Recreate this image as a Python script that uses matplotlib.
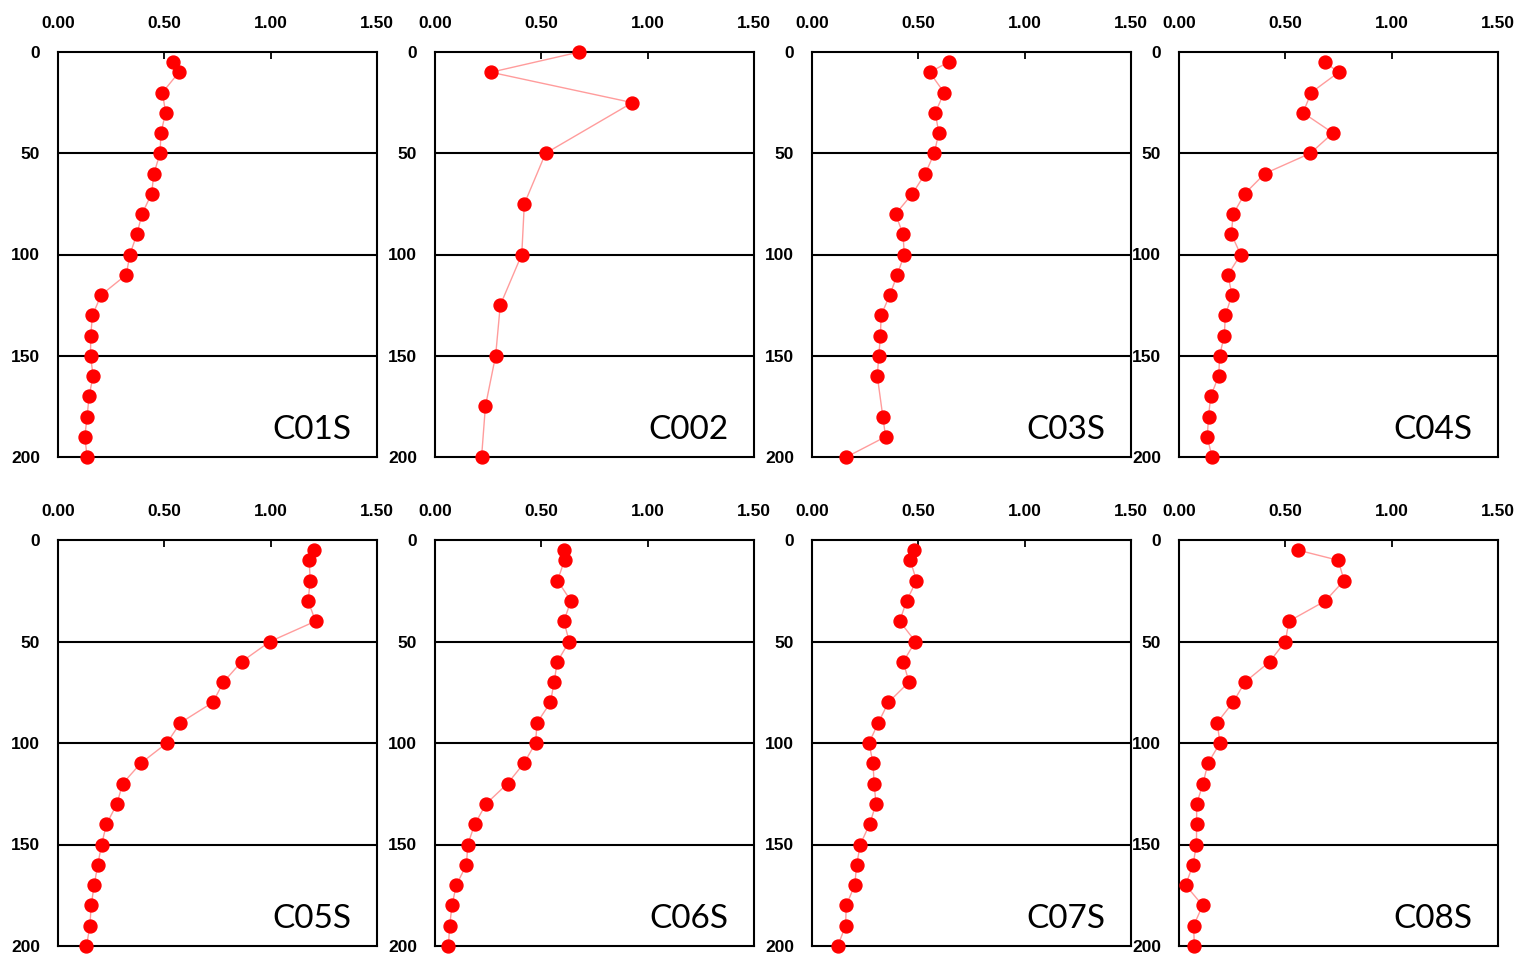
import numpy as np
import matplotlib.pyplot as plt

# depth (m) of each sample
depth_std = [5, 10, 20, 30, 40, 50, 60, 70, 80, 90, 100, 110, 120, 130, 140, 150, 160, 170, 180, 190, 200]
depth_c002 = [0, 10, 25, 50, 75, 100, 125, 150, 175, 200]
depth_c03s = [5, 10, 20, 30, 40, 50, 60, 70, 80, 90, 100, 110, 120, 130, 140, 150, 160, 180, 190, 200]

c01s = [0.542, 0.569, 0.491, 0.506, 0.484, 0.480, 0.451, 0.440, 0.395, 0.371, 0.338,
        0.321, 0.203, 0.162, 0.154, 0.153, 0.165, 0.146, 0.137, 0.126, 0.137]
c002 = [0.679, 0.263, 0.928, 0.520, 0.420, 0.408, 0.307, 0.285, 0.237, 0.219]
c03s = [0.642, 0.553, 0.621, 0.580, 0.596, 0.575, 0.533, 0.472, 0.393, 0.428,
        0.434, 0.401, 0.366, 0.325, 0.322, 0.314, 0.307, 0.333, 0.346, 0.162]
c04s = [0.685, 0.751, 0.622, 0.583, 0.724, 0.618, 0.404, 0.309, 0.255, 0.246, 0.290,
        0.230, 0.249, 0.218, 0.213, 0.191, 0.187, 0.149, 0.139, 0.133, 0.155]
c05s = [1.205, 1.181, 1.186, 1.176, 1.211, 0.997, 0.863, 0.778, 0.728, 0.576, 0.512,
        0.389, 0.304, 0.277, 0.228, 0.205, 0.187, 0.170, 0.156, 0.150, 0.134]
c06s = [0.606, 0.609, 0.576, 0.639, 0.606, 0.631, 0.575, 0.560, 0.543, 0.480, 0.473,
        0.418, 0.341, 0.240, 0.187, 0.154, 0.148, 0.100, 0.080, 0.069, 0.063]
c07s = [0.481, 0.462, 0.491, 0.445, 0.412, 0.486, 0.429, 0.456, 0.359, 0.312, 0.268,
        0.287, 0.292, 0.301, 0.271, 0.227, 0.210, 0.201, 0.161, 0.158, 0.121]
c08s = [0.560, 0.749, 0.776, 0.688, 0.517, 0.500, 0.426, 0.310, 0.254, 0.179, 0.193,
        0.136, 0.113, 0.083, 0.083, 0.082, 0.066, 0.031, 0.111, 0.069, 0.072]

names = ["C01S", "C002", "C03S", "C04S", "C05S", "C06S", "C07S", "C08S"]
values = [c01s, c002, c03s, c04s, c05s, c06s, c07s, c08s]
depths = [depth_std, depth_c002, depth_c03s, depth_std, depth_std, depth_std, depth_std, depth_std]

xticks = [0.0, 0.5, 1.0, 1.5]
xticklabels = ["0.00", "0.50", "1.00", "1.50"]
yticks = [0, 50, 100, 150, 200]

W, H = 1517, 957
fig = plt.figure(figsize=(W / 100, H / 100), dpi=100)
plt.rcParams['font.family'] = ['Liberation Sans', 'DejaVu Sans']

lefts = [58, 435, 812, 1179]
rows = [(52, 457), (540, 946)]  # top, bottom in pixels

for k in range(8):
    r, c = divmod(k, 4)
    top, bot = rows[r]
    ax = fig.add_axes([lefts[c] / W, 1 - bot / H, 319 / W, (bot - top) / H])
    ax.plot(values[k], depths[k], color='#ff9c9c', lw=1, zorder=2)
    ax.plot(values[k], depths[k], 'o', color='#ff0000', ms=9.3, mec='#ff0000', zorder=3, clip_on=False)
    ax.set_xlim(0, 1.5)
    ax.set_ylim(200, 0)
    ax.xaxis.tick_top()
    ax.set_xticks(xticks)
    ax.set_xticklabels(xticklabels)
    ax.set_yticks(yticks)
    ax.tick_params(axis='x', direction='in', length=5, width=1.3, pad=15,
                   labelsize=12.5, colors='black')
    ax.tick_params(axis='y', length=0, pad=13, labelsize=12.5)
    for lab in ax.get_xticklabels() + ax.get_yticklabels():
        lab.set_fontweight('bold')
    for ln in [50, 100, 150]:
        ax.axhline(ln, color='black', lw=1.5, zorder=1)
    for sp in ax.spines.values():
        sp.set_linewidth(1.5)
    ax.text(0.92, 0.045, names[k], transform=ax.transAxes, ha='right', va='baseline',
            fontsize=24, family=['Lato', 'DejaVu Sans'])

fig.savefig("out.png", dpi=100)
